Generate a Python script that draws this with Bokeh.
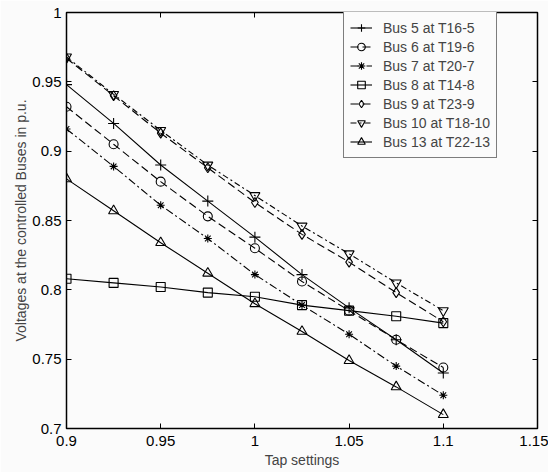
from bokeh.plotting import figure
from bokeh.models import LinearAxis, Range1d, FixedTicker, Legend, LegendItem, CustomJSTickFormatter
from bokeh.embed import file_html
from bokeh.resources import INLINE

tap = [0.9, 0.925, 0.95, 0.975, 1.0, 1.025, 1.05, 1.075, 1.1]
bus5 = [0.948, 0.920, 0.890, 0.864, 0.838, 0.811, 0.787, 0.764, 0.740]
bus6 = [0.932, 0.905, 0.878, 0.853, 0.830, 0.806, 0.785, 0.764, 0.744]
bus7 = [0.916, 0.889, 0.861, 0.837, 0.811, 0.789, 0.768, 0.745, 0.724]
bus8 = [0.808, 0.805, 0.802, 0.798, 0.795, 0.789, 0.785, 0.781, 0.776]
bus9 = [0.967, 0.940, 0.913, 0.888, 0.863, 0.840, 0.820, 0.798, 0.777]
bus10 = [0.968, 0.941, 0.915, 0.890, 0.868, 0.846, 0.826, 0.805, 0.785]
bus13 = [0.880, 0.857, 0.834, 0.812, 0.790, 0.770, 0.749, 0.730, 0.710]
labels = ["Bus 5 at T16-5", "Bus 6 at T19-6", "Bus 7 at T20-7", "Bus 8 at T14-8",
          "Bus 9 at T23-9", "Bus 10 at T18-10", "Bus 13 at T22-13"]
xticks = [0.9, 0.95, 1.0, 1.05, 1.1, 1.15]
yticks = [0.7, 0.75, 0.8, 0.85, 0.9, 0.95, 1.0]

series = [bus5, bus6, bus7, bus8, bus9, bus10, bus13]
markers = ["cross", "circle", "asterisk", "square", "diamond", "inverted_triangle", "triangle"]
dashes = ["solid", "8 4", "8 3 2 3", "solid", "8 4", "6 3 2 3", "solid"]
sizes = [11, 9, 8, 9, 10, 10, 10]

p = figure(width=548, height=472, output_backend="svg", toolbar_location=None,
           x_range=Range1d(0.9, 1.15), y_range=Range1d(0.7, 1.0),
           min_border_left=66, min_border_right=11, min_border_top=12, min_border_bottom=44)
p.background_fill_color = "#fbfbfb"
p.border_fill_color = "#fbfbfb"
p.outline_line_color = "black"
p.outline_line_width = 1.5
p.grid.visible = False

font = "Liberation Sans"
for ax in [p.xaxis[0], p.yaxis[0]]:
    ax.major_label_text_font = font
    ax.major_label_text_font_size = "15px"
    ax.major_label_text_color = "black"
    ax.axis_label_text_font = font
    ax.axis_label_text_font_size = "14px"
    ax.axis_label_text_font_style = "normal"
    ax.major_tick_in = 5
    ax.major_tick_out = 0
    ax.minor_tick_line_color = None
    ax.axis_line_color = None
    ax.major_tick_line_color = "black"
p.xaxis[0].ticker = FixedTicker(ticks=xticks)
p.yaxis[0].ticker = FixedTicker(ticks=yticks)
p.xaxis[0].axis_label = "Tap settings"
p.yaxis[0].axis_label = "Voltages at the controlled Buses in p.u."
p.xaxis[0].major_label_overrides = {1.0: "1"}
p.yaxis[0].major_label_overrides = {1.0: "1"}
p.xaxis[0].major_label_standoff = 7
p.xaxis[0].axis_label_standoff = 3
p.yaxis[0].major_label_standoff = 5
p.yaxis[0].axis_label_standoff = 0

top = LinearAxis(ticker=FixedTicker(ticks=xticks), formatter=CustomJSTickFormatter(code="return ''"),
                 major_label_standoff=0,
                 major_tick_in=5, major_tick_out=0, minor_tick_line_color=None, axis_line_color=None)
right = LinearAxis(ticker=FixedTicker(ticks=yticks), formatter=CustomJSTickFormatter(code="return ''"),
                   major_label_standoff=0,
                   major_tick_in=5, major_tick_out=0, minor_tick_line_color=None, axis_line_color=None)
p.add_layout(top, "above")
p.add_layout(right, "right")

items = []
for ys, lab, mk, ds, sz in zip(series, labels, markers, dashes, sizes):
    r1 = p.line(tap, ys, line_color="black", line_width=1.1, line_dash=ds)
    r2 = p.scatter(tap, ys, marker=mk, size=sz, line_color="black", fill_color=None, line_width=1.1)
    items.append(LegendItem(label=lab, renderers=[r1, r2]))

leg = Legend(items=items, location=(277, 270))
leg.label_text_font = font
leg.label_text_font_size = "14px"
leg.label_height = 19
leg.glyph_height = 19
leg.glyph_width = 22
leg.label_standoff = 11
leg.spacing = 0
leg.padding = 6
leg.margin = 0
leg.border_line_color = "black"
leg.border_line_width = 1.2
leg.background_fill_color = "#fbfbfb"
leg.background_fill_alpha = 1
p.add_layout(leg)

open("out.html", "w").write(file_html(p, INLINE))
